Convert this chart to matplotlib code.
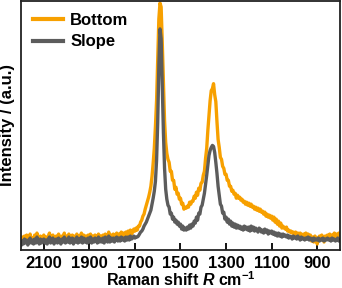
import numpy as np
import matplotlib
matplotlib.use("Agg")
import matplotlib.pyplot as plt

plt.rcParams['font.family'] = ['Liberation Sans', 'DejaVu Sans']
plt.rcParams['font.weight'] = 'bold'
plt.rcParams['mathtext.fontset'] = 'custom'
plt.rcParams['mathtext.rm'] = 'Liberation Sans:bold'
plt.rcParams['mathtext.it'] = 'Liberation Sans:italic:bold'
plt.rcParams['mathtext.bf'] = 'Liberation Sans:bold'

# Raman shift axis (cm^-1), 5 cm^-1 steps from 2200 down to 800
wavenumber = np.arange(2200, 795, -5)

bottom = [
    9, 13, 9, 14, 11, 15, 9, 12, 16, 10,
    12, 9, 15, 11, 17, 12, 9, 14, 10, 12,
    15, 10, 13, 9, 14, 17, 10, 12, 15, 9,
    12, 14, 10, 16, 12, 9, 14, 11, 17, 10,
    14, 11, 16, 10, 12, 15, 9, 14, 11, 16,
    10, 14, 11, 17, 10, 15, 11, 14, 10, 15,
    11, 16, 10, 14, 11, 15, 13, 10, 16, 11,
    14, 11, 15, 10, 16, 13, 11, 18, 11, 15,
    12, 16, 11, 15, 17, 12, 16, 13, 18, 14,
    17, 13, 18, 14, 19, 15, 20, 16, 18, 21,
    19, 22, 20, 24, 24, 28, 30, 34, 36, 41,
    45, 49, 53, 58, 64, 74, 87, 102, 124, 150,
    190, 232, 248, 244, 208, 168, 130, 108, 97, 91,
    88, 79, 79, 70, 70, 61, 63, 56, 57, 51,
    52, 46, 47, 41, 43, 42, 44, 43, 48, 46,
    49, 49, 54, 52, 58, 55, 62, 60, 67, 68,
    75, 79, 92, 102, 120, 135, 150, 160, 162, 167,
    156, 149, 129, 111, 103, 93, 91, 84, 82, 76,
    76, 70, 70, 64, 64, 59, 60, 56, 57, 52,
    55, 52, 53, 50, 51, 48, 49, 46, 48, 45,
    47, 44, 46, 43, 44, 41, 43, 40, 42, 39,
    41, 38, 39, 36, 38, 34, 36, 33, 35, 32,
    34, 30, 33, 28, 31, 26, 29, 24, 27, 22,
    24, 22, 21, 23, 19, 20, 18, 19, 17, 18,
    16, 18, 15, 17, 14, 17, 16, 13, 16, 15,
    17, 14, 16, 12, 15, 9, 13, 8, 14, 12,
    6, 12, 14, 10, 15, 13, 8, 14, 12, 15,
    13, 16, 12, 15, 14, 17, 13, 16, 14, 17,
    15,
]

slope = [
    5, 9, 6, 11, 7, 10, 5, 9, 12, 7,
    10, 6, 11, 7, 13, 9, 6, 11, 7, 10,
    11, 7, 10, 6, 11, 13, 7, 10, 12, 6,
    10, 11, 7, 12, 9, 6, 11, 8, 13, 7,
    11, 8, 13, 7, 10, 12, 6, 11, 8, 13,
    7, 11, 8, 13, 7, 12, 8, 11, 7, 12,
    8, 13, 7, 11, 8, 12, 10, 7, 13, 8,
    11, 8, 12, 7, 13, 10, 8, 14, 8, 12,
    9, 12, 8, 12, 13, 9, 12, 9, 13, 10,
    12, 9, 13, 10, 13, 10, 14, 11, 12, 14,
    12, 13, 13, 14, 16, 18, 19, 21, 24, 26,
    28, 31, 34, 37, 40, 46, 52, 59, 69, 90,
    128, 185, 222, 212, 165, 118, 82, 61, 51, 45,
    43, 36, 37, 31, 33, 28, 30, 26, 28, 24,
    26, 21, 24, 20, 22, 20, 23, 21, 25, 22,
    26, 24, 29, 27, 33, 30, 37, 36, 43, 45,
    51, 57, 66, 75, 85, 95, 100, 103, 105, 104,
    98, 88, 77, 64, 55, 46, 44, 37, 38, 31,
    33, 28, 31, 26, 29, 24, 27, 23, 26, 22,
    25, 22, 24, 21, 23, 20, 24, 21, 23, 20,
    23, 19, 24, 20, 23, 19, 22, 20, 18, 22,
    21, 18, 20, 17, 21, 18, 20, 16, 19, 17,
    19, 16, 18, 15, 17, 14, 17, 14, 16, 13,
    16, 14, 15, 13, 15, 12, 14, 13, 11, 14,
    12, 13, 11, 14, 12, 10, 13, 11, 12, 10,
    12, 11, 13, 10, 12, 11, 9, 12, 10, 11,
    10, 12, 9, 11, 10, 12, 9, 11, 10, 12,
    10, 11, 9, 12, 10, 11, 9, 10, 12, 9,
    10,
]

series_labels = ["Bottom", "Slope"]
xticks = [2100, 1900, 1700, 1500, 1300, 1100, 900]

fig = plt.figure(figsize=(3.42, 2.88), dpi=100)
ax = fig.add_axes([21/342, 38/288, 319/342, 249/288])

ax.plot(wavenumber, bottom, color='#F7A000', lw=2.4, label=series_labels[0])
ax.plot(wavenumber, slope, color='#5C5C5C', lw=2.4, label=series_labels[1])

ax.set_xlim(2200, 800)
ax.set_ylim(0, 250)
ax.set_xticks(xticks)
ax.set_xticklabels([str(t) for t in xticks], fontsize=12, fontweight='bold')
ax.set_yticks([])
ax.tick_params(axis='x', direction='in', length=5, width=1.3, pad=4)
for s in ax.spines.values():
    s.set_linewidth(1.3)
    s.set_color('#222222')

ax.set_xlabel(r"Raman shift $\mathit{R}$ cm$^{-1}$", fontsize=11.5, fontweight='bold', labelpad=0)
ax.set_ylabel("Intensity / (a.u.)", fontsize=12, fontweight='bold', labelpad=4)

leg = ax.legend(loc='upper left', frameon=False, fontsize=12, handlelength=1.8,
                handletextpad=0.45, labelspacing=0.4, borderaxespad=0.3,
                bbox_to_anchor=(0.0, 1.0))
for line in leg.get_lines():
    line.set_linewidth(3.0)
for t in leg.get_texts():
    t.set_fontweight('bold')

fig.savefig("out.png", dpi=100)
